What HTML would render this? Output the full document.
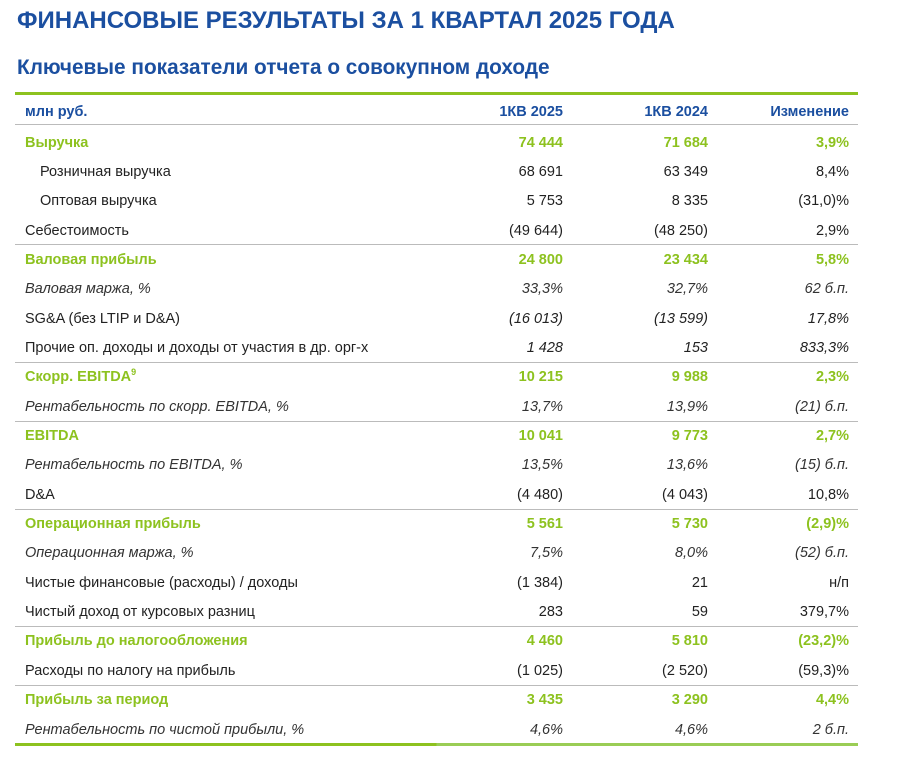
<!DOCTYPE html>
<html><head><meta charset="utf-8">
<style>
body{margin:0;width:902px;height:767px;background:#fff;font-family:"Liberation Sans","Noto Sans CJK SC",sans-serif;position:relative;overflow:hidden;color:#222}
.t{position:absolute;left:17px;top:7px;font-size:24px;font-weight:bold;color:#1b4fa0;white-space:nowrap;letter-spacing:0}
.s{position:absolute;left:17px;top:56px;font-size:20.8px;font-weight:bold;color:#1b4fa0;white-space:nowrap}
.row{position:absolute;left:15px;width:843px;height:29px;font-size:14.5px;line-height:29px}
.row span{position:absolute;white-space:nowrap}
.l{left:10px}.ind{left:25px}
.c1{right:295px}.c2{right:150px}.c3{right:9px}
.hd{color:#1b4fa0;font-weight:bold}
.b{color:#8dc21f;font-weight:bold}
.i{font-style:italic;color:#333}
.ln{position:absolute;left:15px;width:843px;height:1px;background:#bbb}
</style></head><body>
<div class="t">ФИНАНСОВЫЕ РЕЗУЛЬТАТЫ ЗА 1 КВАРТАЛ 2025 ГОДА</div>
<div class="s">Ключевые показатели отчета о совокупном доходе</div>
<div style="position:absolute;left:15px;top:92px;width:843px;height:3px;background:#8dc21f"></div>
<div class="row hd" style="top:98px"><span class="l">млн руб.</span><span class="c1">1КВ 2025</span><span class="c2">1КВ 2024</span><span class="c3">Изменение</span></div>
<div class="ln" style="top:124px"></div>
<div id="rows"></div>
<div style="position:absolute;left:15px;top:743px;width:843px;height:3px;background:linear-gradient(90deg,#8dc21f 50%,#9acd55 50%)"></div>
<script>
const labels=["Выручка","Розничная выручка","Оптовая выручка","Себестоимость","Валовая прибыль","Валовая маржа, %","SG&A (без LTIP и D&A)","Прочие оп. доходы и доходы от участия в др. орг-х","Скорр. EBITDA<sup style='font-size:9px;line-height:0'>9</sup>","Рентабельность по скорр. EBITDA, %","EBITDA","Рентабельность по EBITDA, %","D&A","Операционная прибыль","Операционная маржа, %","Чистые финансовые (расходы) / доходы","Чистый доход от курсовых разниц","Прибыль до налогообложения","Расходы по налогу на прибыль","Прибыль за период","Рентабельность по чистой прибыли, %"];
const q2025=["74 444","68 691","5 753","(49 644)","24 800","33,3%","(16 013)","1 428","10 215","13,7%","10 041","13,5%","(4 480)","5 561","7,5%","(1 384)","283","4 460","(1 025)","3 435","4,6%"];
const q2024=["71 684","63 349","8 335","(48 250)","23 434","32,7%","(13 599)","153","9 988","13,9%","9 773","13,6%","(4 043)","5 730","8,0%","21","59","5 810","(2 520)","3 290","4,6%"];
const change=["3,9%","8,4%","(31,0)%","2,9%","5,8%","62 б.п.","17,8%","833,3%","2,3%","(21) б.п.","2,7%","(15) б.п.","10,8%","(2,9)%","(52) б.п.","н/п","379,7%","(23,2)%","(59,3)%","4,4%","2 б.п."];
const kinds=["b","ind","ind","","b","i","si","si","b","i","b","i","","b","i","","","b","","b","i"];
const root=document.getElementById('rows');
labels.forEach((lab,k)=>{
  const top=128.5+k*29.35;
  const kind=kinds[k];
  if(kind==="b"&&k>0){
    const ln=document.createElement('div');ln.className='ln';ln.style.top=(top-1.5)+'px';
    
    
    root.appendChild(ln);
  }
  const r=document.createElement('div');
  r.className='row'+(kind==="b"?' b':'')+(kind==="i"?' i':'');
  r.style.top=top+'px';
  
  
  const numStyle=kind==="si"?" style='font-style:italic'":"";
  r.innerHTML=`<span class="${kind==='ind'?'ind':'l'}">${lab}</span><span class="c1"${numStyle}>${q2025[k]}</span><span class="c2"${numStyle}>${q2024[k]}</span><span class="c3"${numStyle}>${change[k]}</span>`;
  root.appendChild(r);
});
</script>
</body></html>
